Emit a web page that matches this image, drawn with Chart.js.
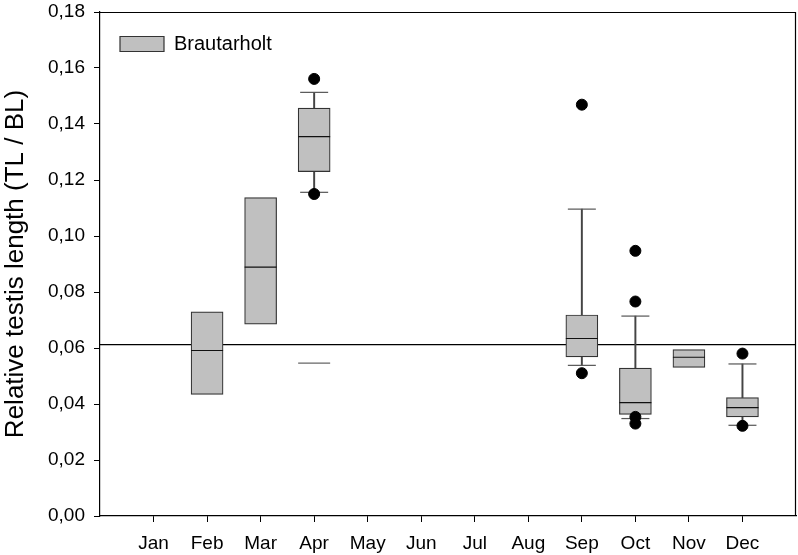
<!DOCTYPE html>
<html>
<head>
<meta charset="utf-8">
<script src="https://cdn.jsdelivr.net/npm/chart.js@4"></script>
<style>
  html, body { margin: 0; padding: 0; background: #fff; overflow: hidden; }
  #wrap { width: 798px; height: 555px; position: relative; }
  #myChart { display: block; }
</style>
</head>
<body>
<div id="wrap"><canvas id="myChart"></canvas></div>
<script>
// month labels, positions 1..12 on the x axis
var months = ['Jan', 'Feb', 'Mar', 'Apr', 'May', 'Jun', 'Jul', 'Aug', 'Sep', 'Oct', 'Nov', 'Dec'];
var yTicks = [0, 0.02, 0.04, 0.06, 0.08, 0.10, 0.12, 0.14, 0.16, 0.18];

// box plot values per month (month number, q1, median, q3)
var boxMonth = [2, 3, 4, 9, 10, 11, 12];
var q1 = [0.0434, 0.0685, 0.1230, 0.0568, 0.0363, 0.0531, 0.0354];
var median = [0.0591, 0.0889, 0.1355, 0.0634, 0.0405, 0.0567, 0.0387];
var q3 = [0.0729, 0.1137, 0.1457, 0.0718, 0.0528, 0.0594, 0.0423];

// whiskers (null = none drawn)
var lowerCap = [null, null, 0.1156, 0.0538, 0.0348, null, 0.0324];
var upperCap = [null, null, 0.1513, 0.1096, 0.0714, null, 0.0543];

// outliers
var outMonth = [4, 4, 9, 9, 10, 10, 10, 10, 12, 12];
var outValue = [0.1561, 0.1150, 0.1469, 0.0510, 0.0947, 0.0766, 0.0354, 0.0330, 0.0580, 0.0322];

// extra mark under April
var aprMarkMonth = [4];
var aprMarkValue = [0.0546];

// horizontal reference level
var refLevel = 0.0612;

var boxes = [], medians = [], caps = [], upperWh = [], lowerWh = [];
for (var i = 0; i < boxMonth.length; i++) {
    boxes.push({x: boxMonth[i], y: [q1[i], q3[i]]});
    medians.push({x: boxMonth[i], y: median[i]});
    if (upperCap[i] !== null) {
        upperWh.push({x: boxMonth[i], y: [q3[i], upperCap[i]]});
        caps.push({x: boxMonth[i], y: upperCap[i]});
    }
    if (lowerCap[i] !== null) {
        lowerWh.push({x: boxMonth[i], y: [lowerCap[i], q1[i]]});
        caps.push({x: boxMonth[i], y: lowerCap[i]});
    }
}
var outliers = outMonth.map(function (m, i) { return {x: m, y: outValue[i]}; });
var aprMark = aprMarkMonth.map(function (m, i) { return {x: m, y: aprMarkValue[i]}; });

// top and right frame lines
var frame = {
    id: 'frame',
    afterLayout: function (chart) {
        // push the legend a bit lower inside the plot
        chart.legend.top += 14;
        chart.legend.bottom += 14;
    },
    afterDatasetsDraw: function (chart) {
        var a = chart.chartArea, ctx = chart.ctx;
        ctx.save();
        ctx.strokeStyle = '#000';
        ctx.lineWidth = 1.2;
        ctx.beginPath();
        ctx.moveTo(a.left, a.top + 0.5);
        ctx.lineTo(a.right - 0.5, a.top + 0.5);
        ctx.lineTo(a.right - 0.5, a.bottom);
        ctx.stroke();
        ctx.restore();
    }
};

Chart.defaults.font.family = '"Liberation Sans", Arial, sans-serif';
Chart.defaults.color = '#000';

var ctx = document.getElementById('myChart').getContext('2d');
var myChart = new Chart(ctx, {
    type: 'bar',
    data: {
        datasets: [
            {
                type: 'scatter', label: 'outliers', data: outliers, order: 0,
                pointStyle: 'circle', pointRadius: 5.5, pointBackgroundColor: '#000', pointBorderColor: '#000'
            },
            {
                type: 'scatter', label: 'median', data: medians, order: 1,
                pointStyle: 'line', pointRadius: 16, pointBorderColor: '#111', pointBorderWidth: 1.2
            },
            {
                type: 'scatter', label: 'caps', data: caps, order: 1,
                pointStyle: 'line', pointRadius: 14, pointBorderColor: '#555', pointBorderWidth: 1.2
            },
            {
                type: 'scatter', label: 'aprmark', data: aprMark, order: 1,
                pointStyle: 'line', pointRadius: 16, pointBorderColor: '#666', pointBorderWidth: 1.2
            },
            {
                type: 'bar', label: 'Brautarholt', data: boxes, order: 2, grouped: false,
                barThickness: 32, backgroundColor: '#c0c0c0', borderColor: '#333',
                borderWidth: 1.2, borderSkipped: false
            },
            {
                type: 'bar', label: 'upper', data: upperWh, order: 3, grouped: false,
                barThickness: 1.3, backgroundColor: '#444', borderWidth: 0
            },
            {
                type: 'bar', label: 'lower', data: lowerWh, order: 3, grouped: false,
                barThickness: 1.3, backgroundColor: '#444', borderWidth: 0
            },
            {
                type: 'line', label: 'ref', order: 4,
                data: [{x: 0, y: refLevel}, {x: 13, y: refLevel}],
                borderColor: '#000', borderWidth: 1.2, pointRadius: 0
            }
        ]
    },
    options: {
        responsive: true,
        maintainAspectRatio: false,
        animation: false,
        layout: { autoPadding: false, padding: { top: 12, right: 2, left: 0, bottom: 0 } },
        plugins: {
            tooltip: { enabled: false },
            legend: {
                position: 'chartArea',
                align: 'start',
                labels: {
                    filter: function (item) { return item.text === 'Brautarholt'; },
                    boxWidth: 44,
                    boxHeight: 15,
                    padding: 20,
                    font: { size: 20 }
                }
            }
        },
        scales: {
            x: {
                type: 'linear',
                min: 0,
                max: 13,
                offset: false,
                afterFit: function (scale) {
                    scale.height = 39;
                    scale.paddingLeft = 0;
                    scale.paddingRight = 0;
                },
                afterBuildTicks: function (scale) {
                    scale.ticks = months.map(function (m, i) { return {value: i + 1}; });
                },
                ticks: {
                    autoSkip: false,
                    maxRotation: 0,
                    padding: 10,
                    font: { size: 19 },
                    callback: function (v) { return months[v - 1]; }
                },
                grid: { offset: false, drawOnChartArea: false, drawTicks: true, tickLength: 6, color: '#000' },
                border: { display: true, color: '#000', width: 1.2 }
            },
            y: {
                min: 0,
                max: 0.18,
                afterFit: function (scale) {
                    scale.width = 100;
                    scale.paddingTop = 0;
                    scale.paddingBottom = 0;
                },
                afterBuildTicks: function (scale) {
                    scale.ticks = yTicks.map(function (v) { return {value: v}; });
                },
                ticks: {
                    padding: 9,
                    font: { size: 19 },
                    callback: function (v) { return v.toFixed(2).replace('.', ','); }
                },
                title: {
                    display: true,
                    text: 'Relative testis length (TL / BL)',
                    font: { size: 26 },
                    padding: 0
                },
                grid: { drawOnChartArea: false, drawTicks: true, tickLength: 6, color: '#000' },
                border: { display: true, color: '#000', width: 1.2 }
            }
        }
    },
    plugins: [frame]
});
</script>
</body>
</html>
